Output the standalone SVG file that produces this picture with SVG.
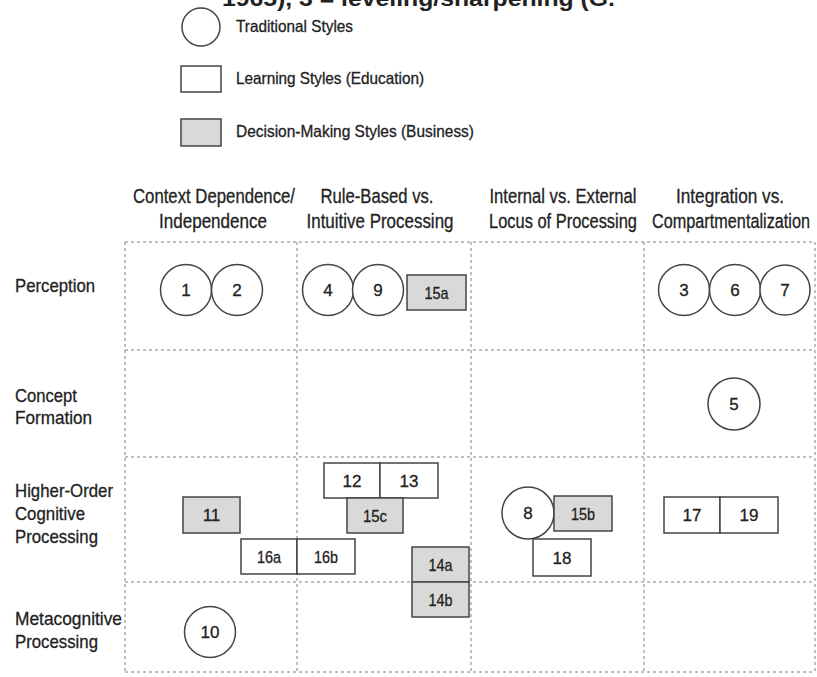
<svg xmlns="http://www.w3.org/2000/svg" width="817" height="677" viewBox="0 0 817 677">
<style>
text{font-family:"Liberation Sans Narrow","Liberation Sans",Arial,sans-serif;fill:#222;stroke:#222;stroke-width:0.3}
.title{font-size:22px;font-weight:bold;stroke-width:0}
.leg{font-size:16.5px}
.hdr{font-size:20.5px;text-anchor:middle}
.row{font-size:19px}
.lbl{font-size:17px;text-anchor:middle}
.grid line{stroke:#ababab;stroke-width:1.5;stroke-dasharray:3 3}
.c{fill:#fff;stroke:#444;stroke-width:1.5}
.r{fill:#fff;stroke:#444;stroke-width:1.5}
.g{fill:#d9d9d9;stroke:#444;stroke-width:1.5}
</style>
<rect width="817" height="677" fill="#fff"/>
<text class="title" x="222" y="6" textLength="393" lengthAdjust="spacingAndGlyphs">1965), 3 = leveling/sharpening (G.</text>
<g id="legend">
<circle class="c" cx="201" cy="27" r="19"/>
<text class="leg" x="236" y="32" textLength="117" lengthAdjust="spacingAndGlyphs">Traditional Styles</text>
<rect class="r" x="181" y="66" width="40" height="26"/>
<text class="leg" x="236" y="84" textLength="188" lengthAdjust="spacingAndGlyphs">Learning Styles (Education)</text>
<rect class="g" x="181" y="119" width="40" height="27"/>
<text class="leg" x="236" y="137" textLength="238" lengthAdjust="spacingAndGlyphs">Decision-Making Styles (Business)</text>
</g>
<g id="headers">
<text class="hdr" x="214" y="203" textLength="162" lengthAdjust="spacingAndGlyphs">Context Dependence/</text>
<text class="hdr" x="213" y="228" textLength="108" lengthAdjust="spacingAndGlyphs">Independence</text>
<text class="hdr" x="377" y="203" textLength="113" lengthAdjust="spacingAndGlyphs">Rule-Based vs.</text>
<text class="hdr" x="380" y="228" textLength="147" lengthAdjust="spacingAndGlyphs">Intuitive Processing</text>
<text class="hdr" x="563" y="203" textLength="147" lengthAdjust="spacingAndGlyphs">Internal vs. External</text>
<text class="hdr" x="563" y="228" textLength="148" lengthAdjust="spacingAndGlyphs">Locus of Processing</text>
<text class="hdr" x="730" y="203" textLength="108" lengthAdjust="spacingAndGlyphs">Integration vs.</text>
<text class="hdr" x="731" y="228" textLength="158" lengthAdjust="spacingAndGlyphs">Compartmentalization</text>
</g>
<g id="rows">
<text class="row" x="15" y="292" textLength="80" lengthAdjust="spacingAndGlyphs">Perception</text>
<text class="row" x="15" y="402" textLength="62" lengthAdjust="spacingAndGlyphs">Concept</text>
<text class="row" x="15" y="424" textLength="77" lengthAdjust="spacingAndGlyphs">Formation</text>
<text class="row" x="15" y="497" textLength="98" lengthAdjust="spacingAndGlyphs">Higher-Order</text>
<text class="row" x="15" y="520" textLength="70" lengthAdjust="spacingAndGlyphs">Cognitive</text>
<text class="row" x="15" y="543" textLength="83" lengthAdjust="spacingAndGlyphs">Processing</text>
<text class="row" x="15" y="625" textLength="107" lengthAdjust="spacingAndGlyphs">Metacognitive</text>
<text class="row" x="15" y="648" textLength="83" lengthAdjust="spacingAndGlyphs">Processing</text>
</g>
<g id="grid" class="grid">
<line x1="125" y1="242" x2="815" y2="242"/>
<line x1="125" y1="350" x2="815" y2="350"/>
<line x1="125" y1="457" x2="815" y2="457"/>
<line x1="125" y1="582" x2="815" y2="582"/>
<line x1="125" y1="672" x2="815" y2="672"/>
<line x1="125" y1="242" x2="125" y2="672"/>
<line x1="297" y1="242" x2="297" y2="672"/>
<line x1="471" y1="242" x2="471" y2="672"/>
<line x1="644" y1="242" x2="644" y2="672"/>
<line x1="815" y1="242" x2="815" y2="672"/>
</g>
<g id="connectors"></g>
<g id="n1"><circle class="c" cx="186" cy="290" r="25.5"/><text class="lbl" x="186" y="296">1</text></g>
<g id="n2"><circle class="c" cx="237" cy="290" r="25.5"/><text class="lbl" x="237" y="296">2</text></g>
<g id="n4"><circle class="c" cx="328" cy="290" r="25.5"/><text class="lbl" x="328" y="296">4</text></g>
<g id="n9"><circle class="c" cx="378" cy="290" r="25.5"/><text class="lbl" x="378" y="296">9</text></g>
<g id="n15a"><rect class="g" x="407" y="275" width="59" height="35"/><text class="lbl" x="436.5" y="298.5" textLength="24" lengthAdjust="spacingAndGlyphs">15a</text></g>
<g id="n3"><circle class="c" cx="684" cy="290" r="25.5"/><text class="lbl" x="684" y="296">3</text></g>
<g id="n6"><circle class="c" cx="735" cy="290" r="25.5"/><text class="lbl" x="735" y="296">6</text></g>
<g id="n7"><circle class="c" cx="785" cy="290" r="25"/><text class="lbl" x="785" y="296">7</text></g>
<g id="n5"><circle class="c" cx="734" cy="404" r="26"/><text class="lbl" x="734" y="410">5</text></g>
<g id="n11"><rect class="g" x="183" y="497" width="57" height="36"/><text class="lbl" x="211.5" y="521">11</text></g>
<g id="n12"><rect class="r" x="324" y="463" width="56" height="35"/><text class="lbl" x="352" y="486.5">12</text></g>
<g id="n13"><rect class="r" x="380" y="463" width="58" height="35"/><text class="lbl" x="409" y="486.5">13</text></g>
<g id="n15c"><rect class="g" x="347" y="498" width="56" height="35"/><text class="lbl" x="375" y="521.5" textLength="24" lengthAdjust="spacingAndGlyphs">15c</text></g>
<g id="n16a"><rect class="r" x="241" y="539" width="56" height="35"/><text class="lbl" x="269" y="562.5" textLength="24" lengthAdjust="spacingAndGlyphs">16a</text></g>
<g id="n16b"><rect class="r" x="297" y="539" width="58" height="35"/><text class="lbl" x="326" y="562.5" textLength="24" lengthAdjust="spacingAndGlyphs">16b</text></g>
<g id="n14a"><rect class="g" x="412" y="547" width="57" height="35"/><text class="lbl" x="440.5" y="570.5" textLength="24" lengthAdjust="spacingAndGlyphs">14a</text></g>
<g id="n14b"><rect class="g" x="412" y="582" width="57" height="35"/><text class="lbl" x="440.5" y="605.5" textLength="24" lengthAdjust="spacingAndGlyphs">14b</text></g>
<g id="n8"><circle class="c" cx="528" cy="513" r="26"/><text class="lbl" x="528" y="519">8</text></g>
<g id="n15b"><rect class="g" x="554" y="496" width="58" height="35"/><text class="lbl" x="583" y="519.5" textLength="24" lengthAdjust="spacingAndGlyphs">15b</text></g>
<g id="n18"><rect class="r" x="533" y="539" width="58" height="37"/><text class="lbl" x="562" y="563.5">18</text></g>
<g id="n17"><rect class="r" x="664" y="497" width="56" height="36"/><text class="lbl" x="692" y="521">17</text></g>
<g id="n19"><rect class="r" x="720" y="497" width="58" height="36"/><text class="lbl" x="749" y="521">19</text></g>
<g id="n10"><circle class="c" cx="210" cy="632" r="25.5"/><text class="lbl" x="210" y="638">10</text></g>
</svg>
